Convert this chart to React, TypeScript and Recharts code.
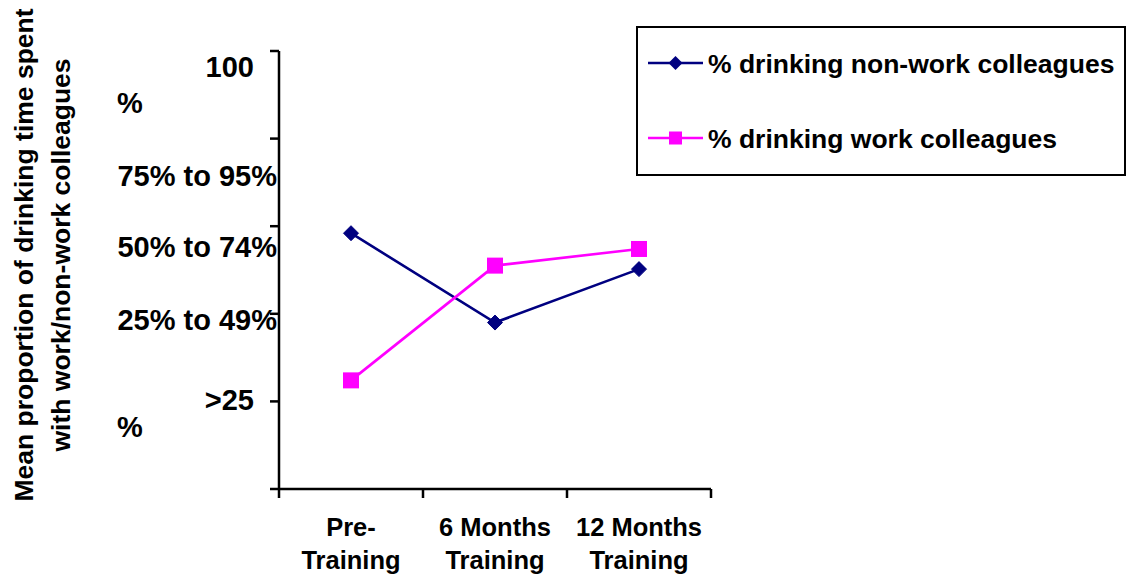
import React from 'react';
import { LineChart, Line, XAxis, YAxis, Legend } from 'recharts';

// Survey time points (each label is split over two lines)
const categories: string[][] = [
  ['Pre-', 'Training'],
  ['6 Months', 'Training'],
  ['12 Months', 'Training'],
];

// Mean proportion scores (0–5 scale) per time point
const nonWorkColleagues = [2.92, 1.9, 2.51];
const workColleagues = [1.24, 2.55, 2.74];

// Y-axis level labels, one per scale point (0..5)
const levelLabels: string[][] = [
  [],
  ['>25', '%'],
  ['25% to 49%'],
  ['50% to 74%'],
  ['75% to 95%'],
  ['100', '%'],
];
const levelTicks = [0, 1, 2, 3, 4, 5];

const seriesNames = ['% drinking non-work colleagues', '% drinking work colleagues'];
const titleLines = ['Mean proportion of drinking time spent', 'with work/non-work colleagues'];

// Layout of the wrapped level labels (baseline offsets below each tick)
const levelLabelLayout = [
  { dy: 0, dy2: 0 },
  { dy: 9, dy2: 36 },
  { dy: 16.5, dy2: 0 },
  { dy: 31, dy2: 0 },
  { dy: 47.5, dy2: 0 },
  { dy: 26, dy2: 62 },
];

const FONT = "'Liberation Sans', Arial, Helvetica, sans-serif";
const NAVY = '#000080';
const MAGENTA = '#FF00FF';
const AXIS_WIDTH = 2.5;

const data = categories.map((c, i) => ({
  pos: i + 0.5,
  nonWork: nonWorkColleagues[i],
  work: workColleagues[i],
}));

const xTicks = [0, 0.5, 1, 1.5, 2, 2.5, 3];

const XTick = (props: any) => {
  const { x, y, payload } = props;
  const v = payload.value as number;
  if (Number.isInteger(v)) {
    return <line x1={x} y1={y} x2={x} y2={y + 9} stroke="#000" strokeWidth={AXIS_WIDTH} />;
  }
  const lines = categories[Math.floor(v)];
  return (
    <g>
      {lines.map((t, i) => (
        <text
          key={i}
          x={x}
          y={y + 47 + i * 33}
          textAnchor="middle"
          fontFamily={FONT}
          fontWeight="bold"
          fontSize={25.5}
          fill="#000"
        >
          {t}
        </text>
      ))}
    </g>
  );
};

const YTick = (props: any) => {
  const { x, y, payload } = props;
  const v = payload.value as number;
  const lines = levelLabels[v] || [];
  const lay = levelLabelLayout[v];
  const common = { fontFamily: FONT, fontWeight: 'bold', fontSize: 29, fill: '#000' } as const;
  if (lines.length === 1) {
    return (
      <text x={x + 7} y={y + lay.dy} textAnchor="end" {...common}>
        {lines[0]}
      </text>
    );
  }
  if (lines.length === 2) {
    return (
      <g>
        <text x={x - 16} y={y + lay.dy} textAnchor="end" {...common}>
          {lines[0]}
        </text>
        <text x={x - 153} y={y + lay.dy2} textAnchor="start" {...common}>
          {lines[1]}
        </text>
      </g>
    );
  }
  return null;
};

const DiamondDot = (props: any) => {
  const { cx, cy, index } = props;
  const r = 7.5;
  return (
    <path
      key={`d-${index}`}
      d={`M${cx},${cy - r}L${cx + r},${cy}L${cx},${cy + r}L${cx - r},${cy}Z`}
      fill={NAVY}
      stroke={NAVY}
      strokeWidth={1}
      strokeLinejoin="round"
    />
  );
};

const SquareDot = (props: any) => {
  const { cx, cy, index } = props;
  const s = 16;
  return <rect key={`s-${index}`} x={cx - s / 2} y={cy - s / 2} width={s} height={s} fill={MAGENTA} />;
};

const YTitle = () => (
  <g>
    {titleLines.map((t, i) => {
      const x = i === 0 ? 33 : 70;
      const y = 255;
      return (
        <text
          key={i}
          x={x}
          y={y}
          transform={`rotate(-90, ${x}, ${y})`}
          textAnchor="middle"
          fontFamily={FONT}
          fontWeight="bold"
          fontSize={26.5}
          fill="#000"
        >
          {t}
        </text>
      );
    })}
  </g>
);

const LegendBox = (props: any) => {
  const payload = (props.payload || []) as any[];
  return (
    <svg width={490} height={150} style={{ display: 'block' }}>
      <rect x={1} y={1} width={488} height={148} fill="#fff" stroke="#000" strokeWidth={2} />
      {payload.map((p, i) => {
        const cy = 37 + i * 75;
        const color = p.color;
        return (
          <g key={i}>
            <line x1={12} y1={cy} x2={67} y2={cy} stroke={color} strokeWidth={2.4} />
            {i === 0 ? (
              <path d={`M39.5,${cy - 7}L46.5,${cy}L39.5,${cy + 7}L32.5,${cy}Z`} fill={color} />
            ) : (
              <rect x={33} y={cy - 6.5} width={13} height={13} fill={color} />
            )}
            <text x={72} y={cy + 10} fontFamily={FONT} fontWeight="bold" fontSize={26.5} fill="#000">
              {p.value}
            </text>
          </g>
        );
      })}
    </svg>
  );
};

export default function App() {
  return (
    <div style={{ position: 'absolute', left: 0, top: 0, width: 1136, height: 577, background: '#fff' }}>
      <LineChart width={1136} height={577} data={data} margin={{ top: 51, right: 425, left: 0, bottom: 0 }}>
        <XAxis
          type="number"
          dataKey="pos"
          domain={[0, 3]}
          ticks={xTicks}
          interval={0}
          tick={XTick}
          tickLine={false}
          tickSize={0}
          tickMargin={0}
          height={88}
          stroke="#000"
          strokeWidth={AXIS_WIDTH}
          axisLine={{ stroke: '#000', strokeWidth: AXIS_WIDTH }}
        />
        <YAxis
          type="number"
          domain={[0, 5]}
          ticks={levelTicks}
          interval={0}
          width={279}
          tickSize={9}
          tickMargin={0}
          tick={YTick}
          stroke="#000"
          strokeWidth={AXIS_WIDTH}
          tickLine={{ stroke: '#000', strokeWidth: AXIS_WIDTH }}
          axisLine={{ stroke: '#000', strokeWidth: AXIS_WIDTH }}
          label={YTitle}
        />
        <Legend
          layout="vertical"
          align="center"
          verticalAlign="middle"
          content={LegendBox}
          wrapperStyle={{ position: 'absolute', left: 636, top: 26, width: 490, height: 150 }}
        />
        <Line
          type="linear"
          dataKey="nonWork"
          name={seriesNames[0]}
          stroke={NAVY}
          strokeWidth={2.6}
          dot={DiamondDot}
          activeDot={false}
          isAnimationActive={false}
        />
        <Line
          type="linear"
          dataKey="work"
          name={seriesNames[1]}
          stroke={MAGENTA}
          strokeWidth={2.6}
          dot={SquareDot}
          activeDot={false}
          isAnimationActive={false}
        />
      </LineChart>
    </div>
  );
}
